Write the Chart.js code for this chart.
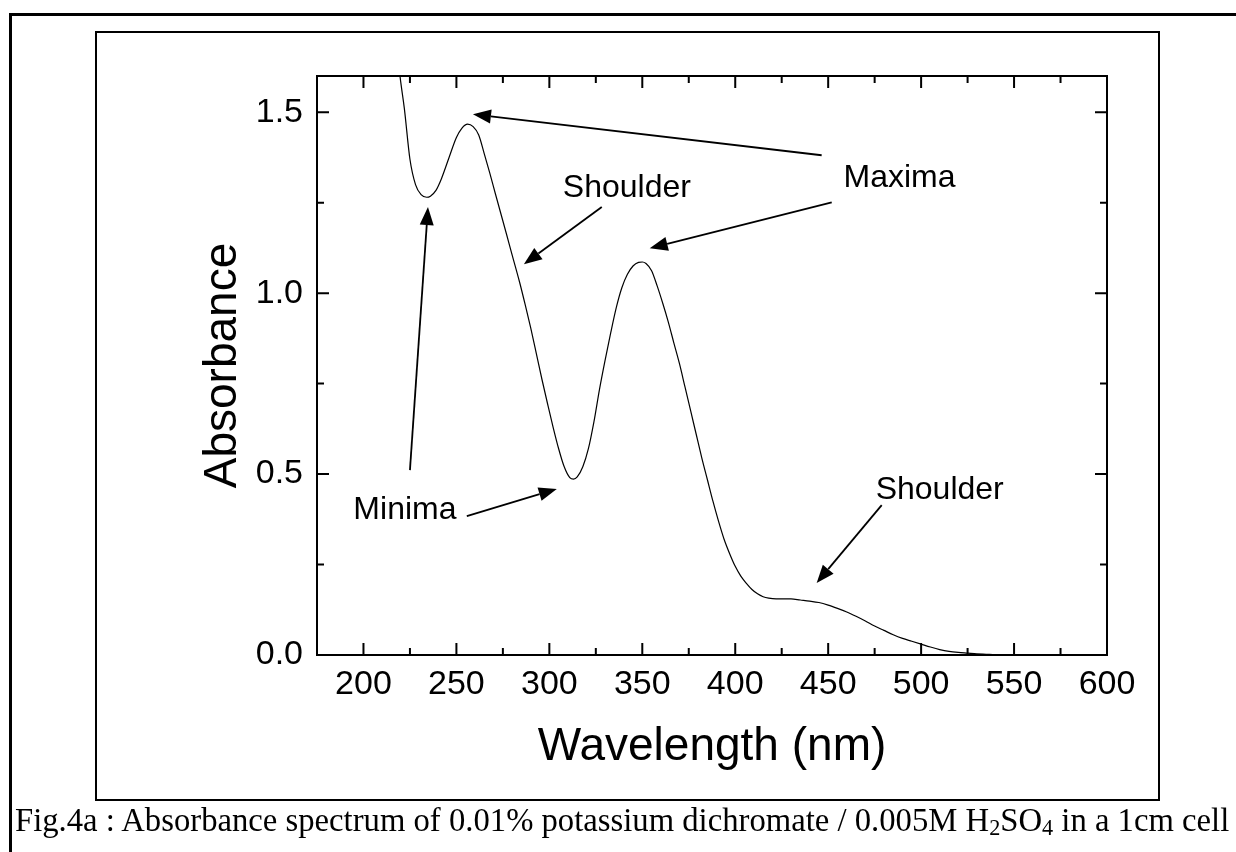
<!DOCTYPE html>
<html>
<head>
<meta charset="utf-8">
<script src="https://cdn.jsdelivr.net/npm/chart.js@4.4.1/dist/chart.umd.min.js"></script>
<style>
  body { margin: 0; background: #fff; }
  #wrap { position: relative; width: 1236px; height: 852px; overflow: hidden; }
  #outerTop { position: absolute; left: 9px; top: 13px; width: 1227px; height: 3px; background: #000; }
  #outerLeft { position: absolute; left: 9px; top: 13px; width: 3px; height: 839px; background: #000; }
  #box { position: absolute; left: 95px; top: 31px; width: 1061px; height: 766px; border: 2px solid #000; }
  #chart { position: absolute; left: 0; top: 0; }
  #caption { position: absolute; left: 15px; top: 803px; white-space: nowrap;
             font-family: 'Liberation Serif', 'Times New Roman', serif; font-size: 32.7px; line-height: 34px; color: #000; }
  #caption sub { font-size: 0.68em; vertical-align: -0.2em; line-height: 0; }
</style>
</head>
<body>
<div id="wrap">
  <div id="outerTop"></div>
  <div id="outerLeft"></div>
  <div id="box"></div>
  <canvas id="chart" width="1236" height="852"></canvas>
  <div id="caption">Fig.4a : Absorbance spectrum of 0.01% potassium dichromate / 0.005M H<sub>2</sub>SO<sub>4</sub> in a 1cm cell</div>
</div>
<script>
// spectrum
const wavelength = [218, 220, 222, 225, 228, 231, 234, 236, 239, 242, 246, 250, 253, 256, 259, 262, 265, 268, 271, 274,
    277, 280, 284, 287, 290, 293, 296, 299, 302, 305, 308, 311, 313, 315, 318, 321, 324, 327, 330, 333,
    336, 339, 342, 345, 348, 350, 352, 355, 358, 361, 364, 367, 370, 373, 376, 379, 382, 385, 388, 391,
    394, 397, 400, 403, 406, 409, 412, 415, 418, 422, 426, 430, 435, 440, 445, 450, 455, 460, 465, 470,
    475, 480, 485, 490, 495, 500, 505, 510, 515, 520, 525, 530, 535, 540, 560, 580, 600];
const absorbance = [1.67, 1.585, 1.51, 1.37, 1.30, 1.272, 1.265, 1.268, 1.284, 1.317, 1.374, 1.43, 1.456, 1.467, 1.46, 1.437, 1.385, 1.331, 1.274, 1.218,
    1.162, 1.105, 1.03, 0.968, 0.903, 0.833, 0.762, 0.695, 0.63, 0.57, 0.52, 0.49, 0.486, 0.492, 0.52, 0.57, 0.645, 0.735, 0.815, 0.89,
    0.96, 1.015, 1.052, 1.075, 1.085, 1.086, 1.082, 1.062, 1.02, 0.972, 0.92, 0.862, 0.805, 0.74, 0.675, 0.61, 0.545, 0.485, 0.425, 0.37,
    0.32, 0.28, 0.245, 0.218, 0.198, 0.181, 0.169, 0.161, 0.157, 0.155, 0.155, 0.155, 0.152, 0.149, 0.145, 0.138, 0.129, 0.119, 0.107, 0.094,
    0.080, 0.068, 0.056, 0.046, 0.038, 0.030, 0.022, 0.015, 0.010, 0.007, 0.005, 0.003, 0.002, 0.001, 0, 0, 0];

// tick positions
const xMajorTicks = [200, 250, 300, 350, 400, 450, 500, 550];
const xMinorTicks = [225, 275, 325, 375, 425, 475, 525, 575];
const yMajorTicks = [0.5, 1.0, 1.5];
const yMinorTicks = [0.25, 0.75, 1.25];

// annotations, in data units (wavelength, absorbance)
const labelText = ['Maxima', 'Shoulder', 'Shoulder', 'Minima'];
const labelAt = [[488.4, 1.318], [341.7, 1.29], [510, 0.456], [222.3, 0.40]];
const arrowFrom = [[446.5, 1.381], [451.9, 1.251], [328.2, 1.238], [225.0, 0.511], [255.6, 0.384], [478.8, 0.414]];
const arrowTo = [[258.9, 1.494], [354.0, 1.124], [286.3, 1.080], [234.7, 1.238], [304.0, 0.459], [443.8, 0.199]];

const sans = "'Liberation Sans', Arial, sans-serif";
Chart.defaults.color = '#000';
Chart.defaults.font.family = sans;

function drawArrow(ctx, x1, y1, x2, y2) {
    const ang = Math.atan2(y2 - y1, x2 - x1);
    const len = 18, half = 7;
    const bx = x2 - len * Math.cos(ang), by = y2 - len * Math.sin(ang);
    ctx.beginPath();
    ctx.moveTo(x1, y1);
    ctx.lineTo(bx, by);
    ctx.stroke();
    ctx.beginPath();
    ctx.moveTo(x2, y2);
    ctx.lineTo(bx + half * Math.sin(ang), by - half * Math.cos(ang));
    ctx.lineTo(bx - half * Math.sin(ang), by + half * Math.cos(ang));
    ctx.closePath();
    ctx.fill();
}

const framePlugin = {
    id: 'frame',
    afterDatasetsDraw(chart) {
        const ctx = chart.ctx;
        const a = chart.chartArea;
        const x = chart.scales.x, y = chart.scales.y;
        ctx.save();
        ctx.strokeStyle = '#000';
        ctx.fillStyle = '#000';
        ctx.lineWidth = 2;
        ctx.strokeRect(a.left, a.top, a.right - a.left, a.bottom - a.top);

        // inward ticks on all four sides
        const tick = (vals, len) => {
            vals.forEach(v => {
                const px = x.getPixelForValue(v);
                ctx.beginPath();
                ctx.moveTo(px, a.bottom); ctx.lineTo(px, a.bottom - len);
                ctx.moveTo(px, a.top); ctx.lineTo(px, a.top + len);
                ctx.stroke();
            });
        };
        const tickY = (vals, len) => {
            vals.forEach(v => {
                const py = y.getPixelForValue(v);
                ctx.beginPath();
                ctx.moveTo(a.left, py); ctx.lineTo(a.left + len, py);
                ctx.moveTo(a.right, py); ctx.lineTo(a.right - len, py);
                ctx.stroke();
            });
        };
        tick(xMajorTicks, 12);
        tick(xMinorTicks, 7);
        tickY(yMajorTicks, 12);
        tickY(yMinorTicks, 7);

        ctx.font = '32px ' + sans;
        ctx.textAlign = 'center';
        ctx.textBaseline = 'middle';
        labelText.forEach((t, i) => {
            ctx.fillText(t, x.getPixelForValue(labelAt[i][0]), y.getPixelForValue(labelAt[i][1]));
        });

        ctx.lineWidth = 1.8;
        arrowFrom.forEach((f, i) => {
            drawArrow(ctx,
                x.getPixelForValue(f[0]), y.getPixelForValue(f[1]),
                x.getPixelForValue(arrowTo[i][0]), y.getPixelForValue(arrowTo[i][1]));
        });
        ctx.restore();
    }
};

const ctx = document.getElementById('chart').getContext('2d');
new Chart(ctx, {
    type: 'line',
    data: {
        datasets: [{
            label: 'Absorbance',
            data: wavelength.map((w, i) => ({ x: w, y: absorbance[i] })),
            borderColor: '#000',
            borderWidth: 1.2,
            pointRadius: 0,
            cubicInterpolationMode: 'monotone',
            fill: false
        }]
    },
    options: {
        responsive: false,
        animation: false,
        layout: { padding: { left: 0, top: 76, right: 129, bottom: 77 } },
        plugins: { legend: { display: false }, tooltip: { enabled: false } },
        scales: {
            x: {
                type: 'linear',
                min: 175,
                max: 600,
                afterFit: s => { s.height = 120; },
                grid: { display: false, drawTicks: false },
                border: { display: false },
                ticks: { stepSize: 50, includeBounds: false, padding: 9, font: { size: 34 } },
                title: { display: true, text: 'Wavelength (nm)', font: { size: 46 }, padding: { top: 0, bottom: 0 } }
            },
            y: {
                min: 0,
                max: 1.6,
                afterFit: s => { s.width = 317; },
                grid: { display: false, drawTicks: false },
                border: { display: false },
                ticks: { stepSize: 0.5, includeBounds: false, padding: 14, font: { size: 34 },
                    callback: v => v.toFixed(1) },
                title: { display: true, text: 'Absorbance', font: { size: 46 }, padding: { top: 196, bottom: 0 } }
            }
        }
    },
    plugins: [framePlugin]
});
</script>
</body>
</html>
